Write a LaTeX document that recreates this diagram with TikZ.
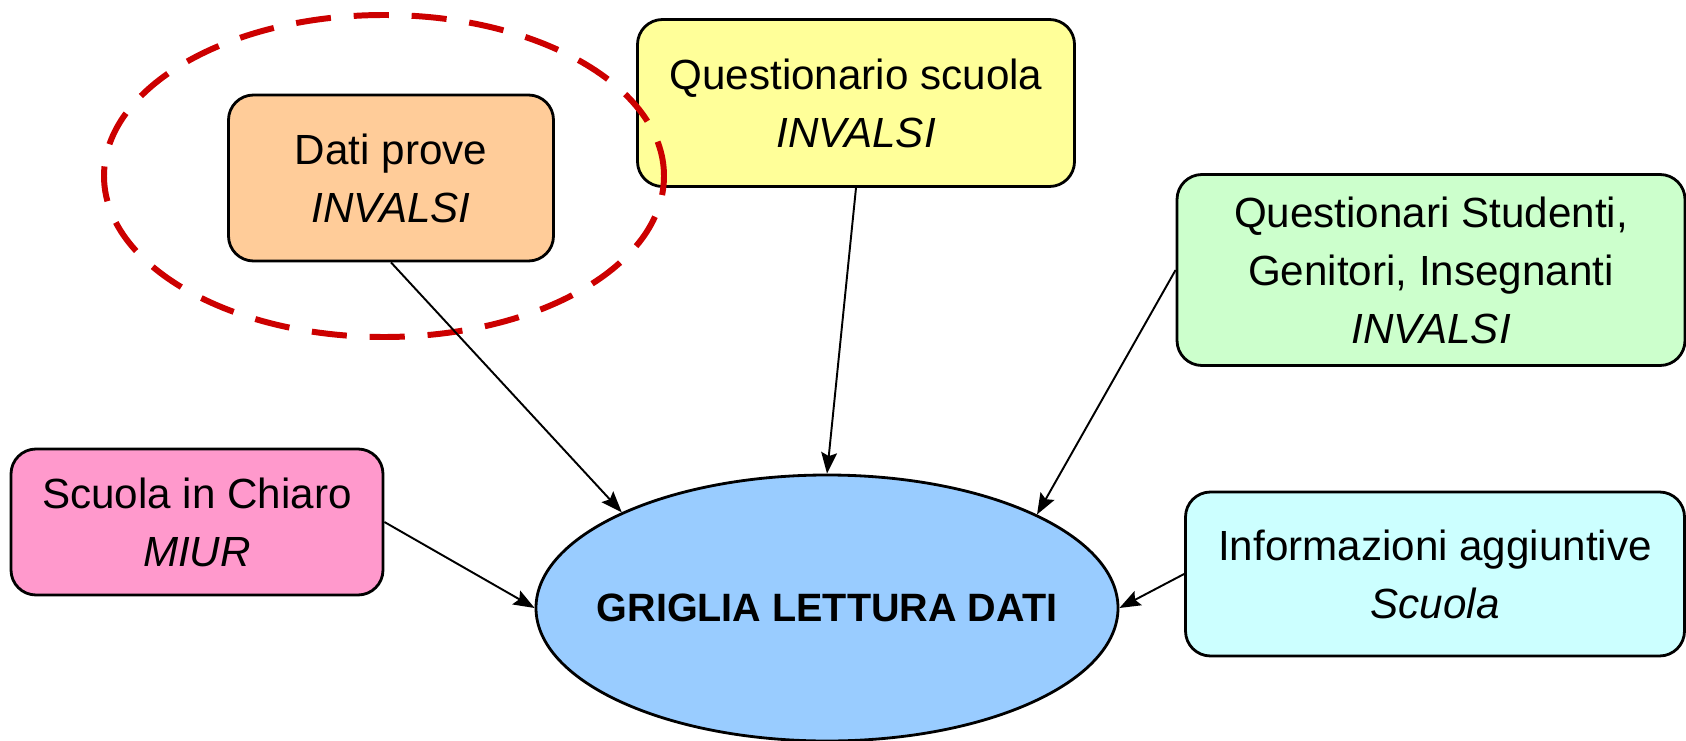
\documentclass[tikz,border=0pt]{standalone}
\usepackage{fontspec}
\setmainfont{Liberation Sans}
\usetikzlibrary{arrows.meta,positioning,shapes.geometric}
\definecolor{provecol}{HTML}{FFCC99}
\definecolor{scuolacol}{HTML}{FFFF99}
\definecolor{studcol}{HTML}{CCFFCC}
\definecolor{chiarocol}{HTML}{FF99CC}
\definecolor{infocol}{HTML}{CCFFFF}
\definecolor{grigliacol}{HTML}{99CCFF}
\definecolor{focuscol}{HTML}{CC0000}
\tikzset{
    %Define standard arrow tip
    >={Stealth[length=12pt,width=9pt,inset=2pt]},
    %Define style for boxes
    sourcerect/.style={
           rectangle,
           rounded corners=0.5cm,
           draw=black, line width=1.6pt,
           inner sep=0pt,
           font=\fontsize{24}{33}\selectfont,
           align=center,
           },
    targetell/.style={
           ellipse,
           draw=black, line width=1.6pt,
           inner xsep=-1cm, inner ysep=0pt,
           minimum width=11.64cm,
           minimum height=5.32cm,
           font=\fontsize{22.5}{26}\selectfont\bfseries,
           fill=grigliacol,
           },
    focusell/.style={
           ellipse,
           draw=focuscol, line width=3.4pt,
           dash pattern=on 20pt off 13pt,
           inner sep=0pt,
           minimum width=11.2cm,
           minimum height=6.44cm,
           },
    % Define arrow style
    pil/.style={
           ->,
           line width=1.1pt,},
}
\begin{document}
\begin{tikzpicture}
\useasboundingbox (0,0) rectangle (33.72,14.8);

 %nodes
\node[targetell] (griglia) at (16.54,2.64) {GRIGLIA LETTURA DATI};
\node[sourcerect, fill=provecol, minimum width=6.5cm, minimum height=3.32cm]
    (prove) at (7.82,11.24) {Dati prove\\\textit{INVALSI}};
\node[sourcerect, fill=scuolacol, minimum width=8.74cm, minimum height=3.34cm]
    (questscuola) at (17.12,12.74) {Questionario scuola\\\textit{INVALSI}};
\node[sourcerect, fill=studcol, minimum width=10.16cm, minimum height=3.82cm]
    (questaltri) at (28.62,9.40) {Questionari Studenti,\\Genitori, Insegnanti\\\textit{INVALSI}};
\node[sourcerect, fill=chiarocol, minimum width=7.44cm, minimum height=2.92cm]
    (chiaro) at (3.94,4.36) {Scuola in Chiaro\\\textit{MIUR}};
\node[sourcerect, fill=infocol, minimum width=9.98cm, minimum height=3.28cm]
    (info) at (28.70,3.32) {Informazioni aggiuntive\\\textit{Scuola}};

 %highlight
\node[focusell] (focus) at (7.68,11.28) {};

 %arrows
\draw[pil] (prove.south) -- (griglia.155);
\draw[pil] (questscuola.south) -- (griglia.north);
\draw[pil] (questaltri.west) -- (griglia.24);
\draw[pil] (chiaro.east) -- (griglia.west);
\draw[pil] (info.west) -- (griglia.east);

\end{tikzpicture}
\end{document}
